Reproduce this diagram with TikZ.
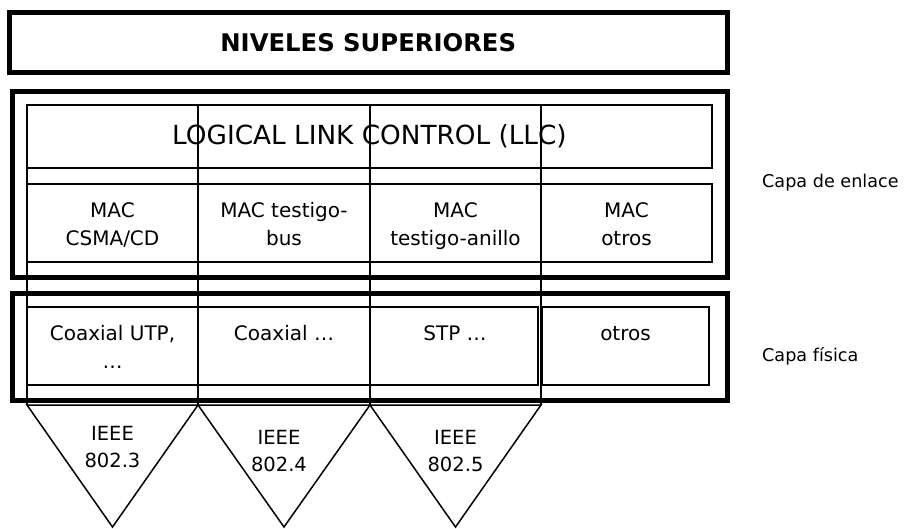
\documentclass[tikz,border=0pt]{standalone}
\usepackage{fontspec}
\setmainfont{DejaVu Sans}
% two centred lines whose baseline is the first line's
\newcommand\celltext[2]{\begin{tabular}[t]{@{}c@{}}#1\\#2\end{tabular}}
\begin{document}
\begin{tikzpicture}[x=1pt,y=-1pt,
  layerbox/.style={draw, line width=5pt, inner sep=0pt, outer sep=0pt, anchor=north west},
  cellbox/.style={draw, line width=1.9pt, inner sep=0pt, outer sep=0pt, anchor=north west},
  column/.style={line width=2.8pt},
  wedge/.style={draw, line width=1.5pt, line join=miter},
  celltxt/.style={font=\fontsize{20}{28.5}\selectfont, anchor=base, inner sep=0pt},
  ieeetxt/.style={font=\fontsize{19.5}{27}\selectfont, anchor=base, inner sep=0pt},
  sidetxt/.style={font=\fontsize{17.6}{20}\selectfont, anchor=base west, inner sep=0pt}]
\useasboundingbox (0,0) rectangle (904,528);

% upper layers
\node[layerbox, minimum width=717.5, minimum height=60, font=\bfseries\fontsize{24.3}{28}\selectfont]
  (top) at (9.5,12.5) {NIVELES SUPERIORES};

% data link layer and physical layer frames
\node[layerbox, minimum width=715, minimum height=186] (link) at (12,91) {};
\node[layerbox, minimum width=715, minimum height=106.5] (phys) at (12,293.5) {};

% LLC
\node[cellbox, minimum width=685, minimum height=63, font=\fontsize{26.3}{30}\selectfont]
  (llc) at (27,105) {LOGICAL LINK CONTROL (LLC)};

% MAC sublayer cells
\node[cellbox, minimum width=171, minimum height=78] (mac1) at (27,184) {};
\node[cellbox, minimum width=172, minimum height=78] (mac2) at (198,184) {};
\node[cellbox, minimum width=171, minimum height=78] (mac3) at (370,184) {};
\node[cellbox, minimum width=171, minimum height=78] (mac4) at (541,184) {};
\node[celltxt] (tmac1) at (112.5,217) {\celltext{MAC}{CSMA/CD}};
\node[celltxt] (tmac2) at (284,217) {\celltext{MAC testigo-}{bus}};
\node[celltxt] (tmac3) at (455.5,217) {\celltext{MAC}{testigo-anillo}};
\node[celltxt] (tmac4) at (626.5,217) {\celltext{MAC}{otros}};

% physical media cells
\node[cellbox, minimum width=171, minimum height=78] (med1) at (27,307) {};
\node[cellbox, minimum width=172, minimum height=78] (med2) at (198,307) {};
\node[cellbox, minimum width=168, minimum height=78] (med3) at (370,307) {};
\node[cellbox, minimum width=167, minimum height=78] (med4) at (542,307) {};
\node[celltxt] (tmed1) at (112.5,340) {\celltext{Coaxial UTP,}{…}};
\node[celltxt] (tmed2) at (284,340) {Coaxial …};
\node[celltxt] (tmed3) at (455,340) {STP …};
\node[celltxt] (tmed4) at (625.5,340) {otros};

% standard wedges
\coordinate (v0) at (27,405);
\coordinate (v1) at (198,405);
\coordinate (v2) at (370,405);
\coordinate (v3) at (541,405);
\coordinate (a1) at (112.5,527);
\coordinate (a2) at (284,527);
\coordinate (a3) at (455.5,527);
\draw[wedge] (v0) -- (v1) -- (a1) -- cycle;
\draw[wedge] (v1) -- (v2) -- (a2) -- cycle;
\draw[wedge] (v2) -- (v3) -- (a3) -- cycle;
\node[ieeetxt] (ieee3) at (112.5,440) {\celltext{IEEE}{802.3}};
\node[ieeetxt] (ieee4) at (279,444) {\celltext{IEEE}{802.4}};
\node[ieeetxt] (ieee5) at (455.5,444) {\celltext{IEEE}{802.5}};

% column dividers running through both layers
\draw[column] (llc.north west) -- (v0);
\draw[column] (v1 |- llc.north) -- (v1);
\draw[column] (v2 |- llc.north) -- (v2);
\draw[column] (v3 |- llc.north) -- (v3);

% layer names
\node[sidetxt] (enlace) at (762,187) {Capa de enlace};
\node[sidetxt] (fisica) at (762,361) {Capa física};
\end{tikzpicture}
\end{document}
